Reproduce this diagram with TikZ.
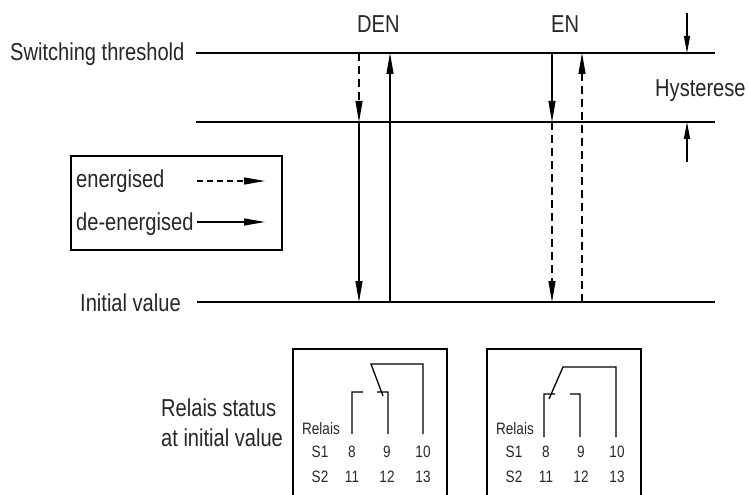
\documentclass[tikz,border=0pt]{standalone}
\usepackage{fontspec}
\setmainfont{Liberation Sans}[FakeStretch=0.82]
\usetikzlibrary{arrows.meta}

\begin{document}
\begin{tikzpicture}[x=1pt,y=-1pt,
	lbl/.style={anchor=base west,inner sep=0pt,text=black!85,font=\fontsize{24.5}{30}\selectfont},
	sml/.style={anchor=base,inner sep=0pt,text=black!85,font=\fontsize{16.5}{19}\selectfont},
	arr/.style={line width=1.1pt,-{Triangle[length=21pt,width=7pt]}},
	dsh/.style={dash pattern=on 8pt off 5pt}]
\useasboundingbox (0,0) rectangle (748,495);
\coordinate (thrA) at (196,53); \coordinate (thrB) at (715,53);
\coordinate (hysA) at (196,122); \coordinate (hysB) at (715,122);
\coordinate (iniA) at (197,302); \coordinate (iniB) at (715,302);
\draw[line width=1.6pt] (thrA)--(thrB) (hysA)--(hysB) (iniA)--(iniB);
\node[lbl] (thr) at (10,61) {Switching threshold};
\node[lbl] (ini) at (80,311) {Initial value};
\node[lbl] (hys) at (655,97) {Hysterese};
\node[lbl] (denl) at (357,33) {DEN};
\node[lbl] (enl) at (551,33) {EN};
%arrows
\coordinate (d1) at (359,0); \coordinate (d2) at (390,0);
\coordinate (e1) at (552,0); \coordinate (e2) at (582,0);
\draw[arr,dsh] (d1 |- thrA) -- (d1 |- hysA);
\draw[arr] (d1 |- hysA) -- (d1 |- iniA);
\draw[arr] (d2 |- iniA) -- (d2 |- thrA);
\draw[arr] (e1 |- thrA) -- (e1 |- hysA);
\draw[arr,dsh] (e1 |- hysA) -- (e1 |- iniA);
\draw[arr,dsh] (e2 |- iniA) -- (e2 |- thrA);
\coordinate (h1) at (687,13); \coordinate (h2) at (687,162);
\draw[arr,-{Triangle[length=17pt,width=6pt]}] (h1) -- (h1 |- thrA);
\draw[arr,-{Triangle[length=17pt,width=6pt]}] (h2) -- (h2 |- hysA);
%legend
\draw[line width=1.3pt] (71,156) rectangle (282,250);
\node[lbl] (en) at (76,187) {energised};
\node[lbl] (den) at (76,230) {de-energised};
\draw[arr,dash pattern=on 6pt off 4pt] (197,181) -- (265,181);
\draw[arr] (197,222) -- (265,222);
%relais
\node[lbl] (st1) at (161,416) {Relais status};
\node[lbl] (st2) at (161,446) {at initial value};
\foreach \s/\n in {0/a,194/b}{
\begin{scope}[xshift=\s pt]
\draw[line width=1.3pt] (293,495)--(293,349)--(447,349)--(447,495);
\node[sml,anchor=base west] (rel\n) at (302,434) {Relais};
\node[sml] (s1\n) at (320,457) {S1};
\node[sml] (s2\n) at (320,482) {S2};
\foreach \x/\p/\q in {352/8/11,387/9/12,423/10/13}{
	\node[sml] (p\p\n) at (\x,457) {\p};
	\node[sml] (p\q\n) at (\x,482) {\q};}
\end{scope}}
\draw[line width=1.3pt] (352,434)--(352,392)--(363,392) (377,392)--(388,392)--(388,434)
	(423,434)--(423,364)--(371,364)--(383,396);
\draw[line width=1.3pt] (544,437)--(544,394)--(555,394) (570,394)--(580,394)--(580,437)
	(616,437)--(616,367)--(563,367)--(549,399);
\end{tikzpicture}
\end{document}
